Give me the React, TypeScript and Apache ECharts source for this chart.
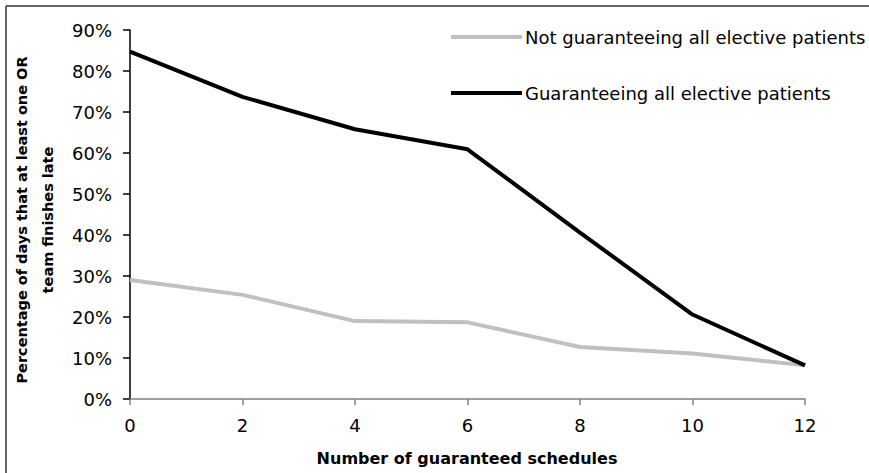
import React, { useEffect, useRef } from "react";
import * as echarts from "echarts";

// Number of guaranteed schedules (x axis)
const schedules = [0, 2, 4, 6, 8, 10, 12];
// Percentage of days that at least one OR team finishes late
const notGuaranteeing = [29.0, 25.4, 19.0, 18.7, 12.7, 11.1, 8.2];
const guaranteeing = [84.7, 73.7, 65.8, 60.9, 40.6, 20.6, 8.2];
const yTicks = [0, 10, 20, 30, 40, 50, 60, 70, 80, 90];

const seriesNames = [
  "Not guaranteeing all elective patients",
  "Guaranteeing all elective patients",
];

const FONT = "DejaVu Sans";

export default function App() {
  const ref = useRef<HTMLDivElement>(null);

  useEffect(() => {
    if (!ref.current) return;
    const chart = echarts.init(ref.current, undefined, { renderer: "svg" });
    chart.setOption({
      animation: false,
      backgroundColor: "#ffffff",
      textStyle: { fontFamily: FONT },
      grid: { left: 130, right: 64, top: 30, bottom: 74, containLabel: false },
      legend: {
        left: 451,
        top: 27,
        padding: 0,
        orient: "vertical",
        icon: "rect",
        itemWidth: 71,
        itemHeight: 4,
        itemGap: 36,
        textStyle: { fontFamily: FONT, fontSize: 18, color: "#000", lineHeight: 20, padding: [0, 0, 0, -2] },
        data: seriesNames,
      },
      xAxis: {
        type: "value",
        min: 0,
        max: 12,
        interval: 2,
        axisLine: { show: true, lineStyle: { color: "#808080", width: 1.5 } },
        axisTick: { show: true, length: 6, lineStyle: { color: "#808080", width: 1.5 } },
        axisLabel: { fontFamily: FONT, fontSize: 18, color: "#000", margin: 17 },
        splitLine: { show: false },
      },
      yAxis: {
        type: "value",
        min: yTicks[0],
        max: yTicks[yTicks.length - 1],
        interval: 10,
        axisLine: { show: true, lineStyle: { color: "#000", width: 1.5 } },
        axisTick: { show: true, length: 7, lineStyle: { color: "#000", width: 1.5 } },
        axisLabel: {
          fontFamily: FONT,
          fontSize: 18,
          color: "#000",
          margin: 18,
          formatter: (v: number) => `${v}%`,
        },
        splitLine: { show: false },
      },
      graphic: [
        // chart frame (top and left edges)
        { type: "line", shape: { x1: 6, y1: 6, x2: 869, y2: 6 }, style: { stroke: "#333", lineWidth: 1.5 } },
        { type: "line", shape: { x1: 6, y1: 6, x2: 6, y2: 473 }, style: { stroke: "#333", lineWidth: 1.5 } },
        // y axis title (two lines)
        {
          type: "text",
          x: 22,
          y: 220,
          rotation: Math.PI / 2,
          style: {
            text: "Percentage of days that at least one OR",
            font: `bold 14.5px '${FONT}'`,
            fill: "#000",
            align: "center",
            verticalAlign: "middle",
          },
        },
        {
          type: "text",
          x: 48,
          y: 220,
          rotation: Math.PI / 2,
          style: {
            text: "team finishes late",
            font: `bold 14.5px '${FONT}'`,
            fill: "#000",
            align: "center",
            verticalAlign: "middle",
          },
        },
        // x axis title
        {
          type: "text",
          x: 467,
          y: 458,
          style: {
            text: "Number of guaranteed schedules",
            font: `bold 16px '${FONT}'`,
            fill: "#000",
            align: "center",
            verticalAlign: "middle",
          },
        },
      ],
      series: [
        {
          name: seriesNames[0],
          type: "line",
          data: schedules.map((x, i) => [x, notGuaranteeing[i]]),
          showSymbol: false,
          symbol: "none",
          lineStyle: { color: "#c0c0c0", width: 4 },
          itemStyle: { color: "#c0c0c0" },
          z: 2,
        },
        {
          name: seriesNames[1],
          type: "line",
          data: schedules.map((x, i) => [x, guaranteeing[i]]),
          showSymbol: false,
          symbol: "none",
          lineStyle: { color: "#000000", width: 4 },
          itemStyle: { color: "#000000" },
          z: 3,
        },
      ],
    });
    return () => chart.dispose();
  }, []);

  return <div ref={ref} style={{ width: 869, height: 473, position: "absolute", left: 0, top: 0 }} />;
}
